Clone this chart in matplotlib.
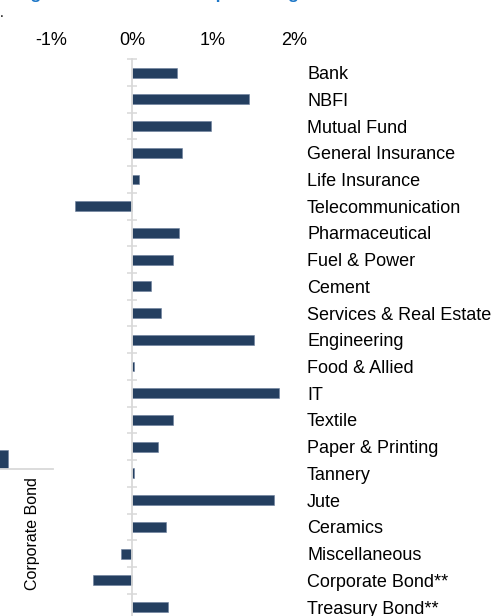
import matplotlib
matplotlib.use("Agg")
import matplotlib.pyplot as plt
import numpy as np

plt.rcParams['font.family'] = ['Liberation Sans', 'DejaVu Sans']

# ---- data ----
sectors = ["Bank", "NBFI", "Mutual Fund", "General Insurance", "Life Insurance",
           "Telecommunication", "Pharmaceutical", "Fuel & Power", "Cement",
           "Services & Real Estate", "Engineering", "Food & Allied", "IT",
           "Textile", "Paper & Printing", "Tannery", "Jute", "Ceramics",
           "Miscellaneous", "Corporate Bond**", "Treasury Bond**"]
changes = [0.55, 1.44, 0.98, 0.62, 0.09, -0.70, 0.58, 0.51, 0.23, 0.36, 1.51,
           0.025, 1.82, 0.51, 0.32, 0.02, 1.75, 0.42, -0.14, -0.48, 0.44]
xticks = [-1, 0, 1, 2]
xticklabels = ["-1%", "0%", "1%", "2%"]

# fragment of neighbouring chart on the left
left_cats = ["Miscellaneous", "Corporate Bond"]
left_vals = [0.19, 0.0]

title = "Weighted sector return in percentage"

BAR = "#243f60"
GRID = "#d9d9d9"

W, H = 495, 616
fig = plt.figure(figsize=(W / 100, H / 100), dpi=100)

def px(x0, y0, x1, y1):
    # convert pixel box (top-left origin) to figure fraction
    return [x0 / W, 1 - y1 / H, (x1 - x0) / W, (y1 - y0) / H]

# ---- main chart ----
ax = fig.add_axes(px(34.8, 59.2, 302.1, 620.4))
n = len(sectors)
ypos = np.arange(n)
ax.barh(ypos, changes, height=0.37, color=BAR, edgecolor="#6b7f9c", linewidth=0.4, zorder=1)
ax.set_ylim(n - 0.5, -0.5)
ax.set_xlim(-1.2, 2.1)

for s in ["top", "right", "bottom"]:
    ax.spines[s].set_visible(False)
ax.spines["left"].set_position(("data", 0))
ax.spines["left"].set_color(GRID)
ax.spines["left"].set_linewidth(1.3)
ax.spines["left"].set_zorder(3)

ax.set_yticks(ypos)
ax.set_yticklabels(sectors)
ax.set_yticks(np.arange(n + 1) - 0.5, minor=True)
ax.tick_params(axis="y", which="major", left=False, right=True, labelleft=False,
               labelright=True, length=0, pad=3.6, labelsize=13, labelcolor="black")
ax.tick_params(axis="y", which="minor", left=True, right=False, direction="inout",
               length=7.6, width=1.1, color=GRID)

ax.xaxis.tick_top()
ax.set_xticks(xticks)
ax.set_xticklabels(xticklabels)
ax.tick_params(axis="x", which="both", length=0, pad=7.5, labelsize=13, labelcolor="black")

# ---- left fragment (neighbouring chart) ----
ax2 = fig.add_axes(px(-31, 369, 53, 469))
ax2.bar(np.arange(len(left_cats)), left_vals, width=0.86, color=BAR,
        edgecolor="#6b7f9c", linewidth=0.4)
ax2.set_xlim(-0.5, len(left_cats) - 0.5)
ax2.set_ylim(0, 1)
for s in ["top", "right", "left"]:
    ax2.spines[s].set_visible(False)
ax2.spines["bottom"].set_color(GRID)
ax2.spines["bottom"].set_linewidth(1.3)
ax2.set_yticks([])
ax2.set_xticks(np.arange(len(left_cats)))
ax2.set_xticklabels(left_cats, rotation=90, fontsize=11.5)
ax2.tick_params(axis="x", length=0, pad=6)

# ---- cut-off title ----
fig.text(0.0, 1 + 0.8 / H, title, color="#1f78c8", fontsize=12.5, fontweight="bold",
         ha="left", va="baseline")
fig.text(0.0, 1 - 17 / H, ".", color="black", fontsize=10, ha="left", va="baseline")

fig.savefig("out.png", dpi=100)
